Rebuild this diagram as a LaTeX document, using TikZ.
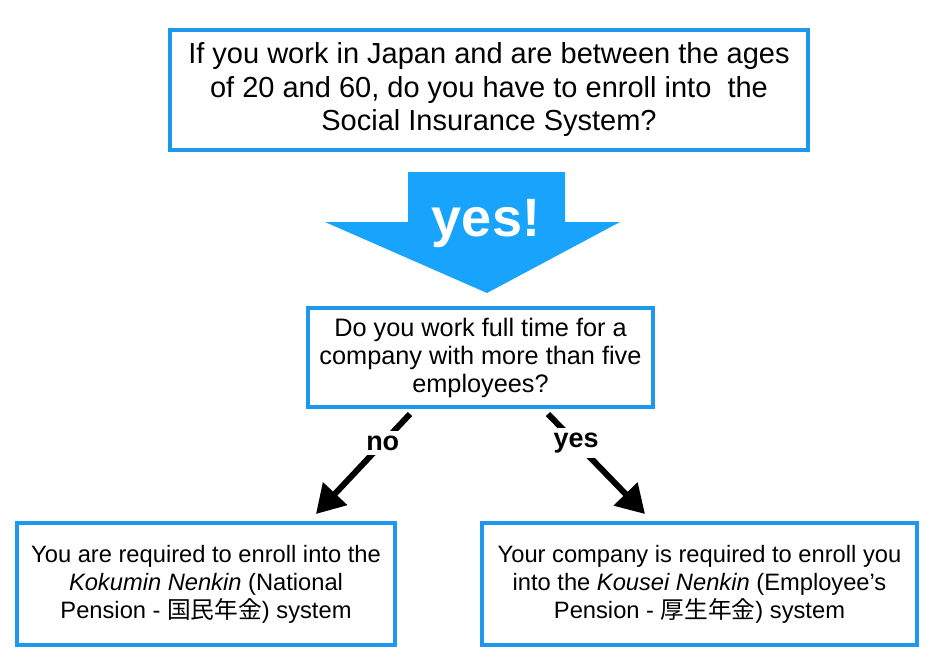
\documentclass[tikz,border=0pt]{standalone}
\usepackage{fontspec}
\setmainfont{Liberation Sans}
\newfontfamily\cjk{Noto Sans CJK JP}
\usetikzlibrary{arrows.meta}
\definecolor{boxblue}{RGB}{30,152,236}
\definecolor{arrowblue}{RGB}{24,164,252}

\begin{document}
\begin{tikzpicture}[
    x=1pt, y=-1pt,
    qbox/.style={draw=boxblue, line width=4pt, fill=white, align=center,
                 inner sep=0pt},
    bigtext/.style={font=\fontsize{29}{33.5}\selectfont},
    midtext/.style={font=\fontsize{25.3}{28}\selectfont},
    smalltext/.style={font=\fontsize{23.7}{28}\selectfont},
    branch/.style={draw=black, line width=6pt,
                   -{Triangle[length=28pt, width=32pt]}},
    branchlabel/.style={fill=white, inner sep=5pt,
                        font=\fontsize{27}{30}\selectfont\bfseries},
  ]
  \useasboundingbox (0,0) rectangle (938,661);
  % question
  \node[qbox, bigtext, minimum width=638pt, minimum height=120pt]
    (question) at (489,90)
    {If you work in Japan and are between the ages\\
     of 20 and 60, do you have to enroll into\ \ the\\
     Social Insurance System?};
  % big arrow
  \fill[arrowblue] (408,172) -- (565,172) -- (565,222) -- (620,222)
    -- (487,293) -- (325,222) -- (408,222) -- cycle;
  \node[text=white, font=\fontsize{54}{58}\selectfont\bfseries]
    (answer) at (486,224) {yes!};
  % full time?
  \node[qbox, midtext, minimum width=345pt, minimum height=99pt]
    (fulltime) at (480.5,357.5)
    {Do you work full time for a\\
     company with more than five\\
     employees?};
  % outcomes
  \node[qbox, smalltext, minimum width=378pt, minimum height=122pt]
    (kokumin) at (206,584)
    {You are required to enroll into the\\
     \textit{Kokumin Nenkin} (National\\
     Pension - {\cjk 国民年金}) system};
  \node[qbox, smalltext, minimum width=435pt, minimum height=122pt]
    (kousei) at (699.5,584)
    {Your company is required to enroll you\\
     into the \textit{Kousei Nenkin} (Employee’s\\
     Pension - {\cjk 厚生年金}) system};
  % branches
  \coordinate (nofrom) at (410,414);
  \coordinate (noto) at (316,514);
  \coordinate (yesfrom) at (548,414);
  \coordinate (yesto) at (645,514);
  \draw[branch] (nofrom) -- (noto)
    node[branchlabel, pos=0.29] (nolabel) {no};
  \draw[branch] (yesfrom) -- (yesto)
    node[branchlabel, pos=0.29] (yeslabel) {yes};
\end{tikzpicture}
\end{document}
